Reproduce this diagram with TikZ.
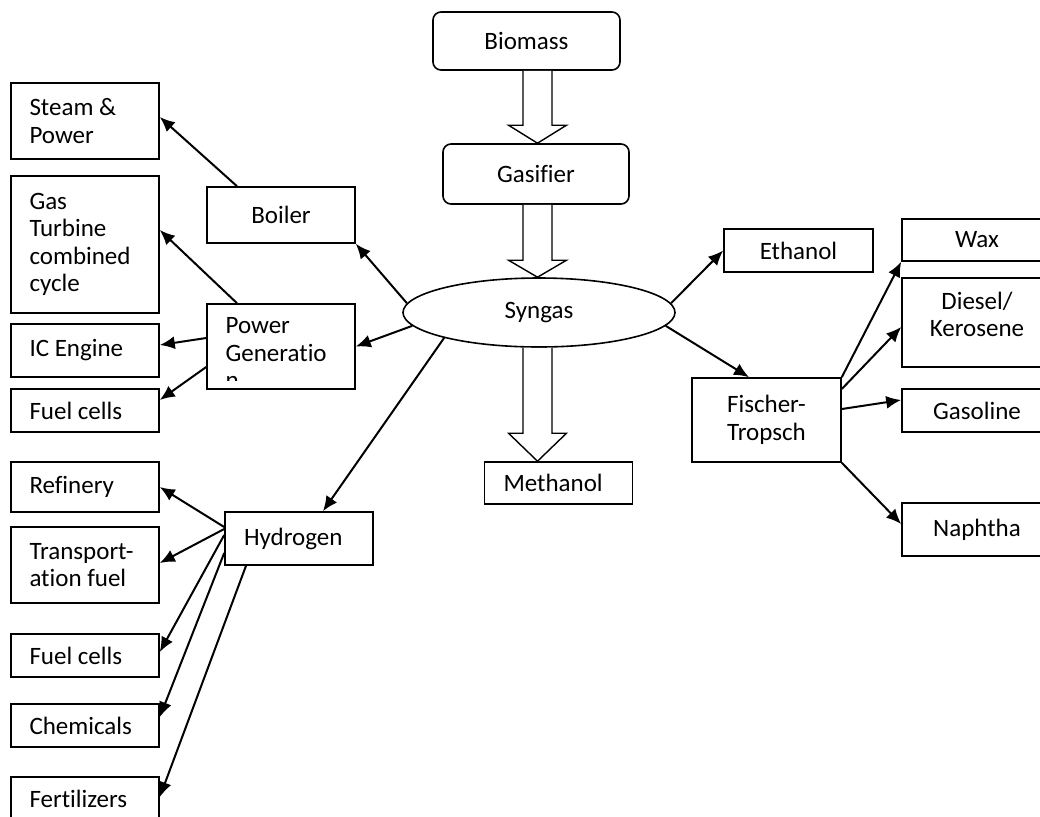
\documentclass[tikz,border=0pt]{standalone}
\usepackage{fontspec}
\setmainfont{Carlito}[Ligatures=NoCommon]
\usetikzlibrary{arrows.meta,shapes.geometric}

\tikzset{
  box/.style={draw, line width=0.8pt, inner sep=0pt, align=center, minimum width=74pt},
  lbox/.style={box, align=flush left, text width=55.5pt, inner xsep=9.25pt},
  rbox/.style={box, rounded corners=4pt},
  arr/.style={-{Latex[length=7.5pt,width=6.5pt]}, line width=1pt},
  fatarrow/.style={draw, fill=white, line width=0.7pt, line join=miter},
}

\begin{document}
\begin{tikzpicture}[x=0.5pt, y=-0.5pt, font=\fontsize{12.5}{13.75}\selectfont]
    \useasboundingbox (0,0) rectangle (1040,816);
    % main line
    \node[rbox, minimum width=93.5pt, minimum height=29pt] (biomass) at (526.5,41) {Biomass};
    \node[rbox, minimum width=93pt, minimum height=30pt] (gasifier) at (536,174) {Gasifier};
    \node[draw, ellipse, line width=0.8pt, inner sep=0pt, minimum width=136pt, minimum height=34.5pt] (syngas) at (539,312.5) {Syngas};
    \node[lbox, text width=55pt, inner xsep=9.5pt, minimum height=21pt] (methanol) at (558.5,483) {Methanol};
    \coordinate (axis) at (537.5,0);
    \draw[fatarrow] ([xshift=-7.25pt]axis |- biomass.south) -- ([xshift=-7.25pt,yshift=9pt]axis |- gasifier.north) -- ([xshift=-14.5pt,yshift=9pt]axis |- gasifier.north) -- (axis |- gasifier.north) -- ([xshift=14.5pt,yshift=9pt]axis |- gasifier.north) -- ([xshift=7.25pt,yshift=9pt]axis |- gasifier.north) -- ([xshift=7.25pt]axis |- biomass.south);
    \draw[fatarrow] ([xshift=-7.25pt]axis |- gasifier.south) -- ([xshift=-7.25pt,yshift=8.5pt]axis |- syngas.north) -- ([xshift=-14.5pt,yshift=8.5pt]axis |- syngas.north) -- (axis |- syngas.north) -- ([xshift=14.5pt,yshift=8.5pt]axis |- syngas.north) -- ([xshift=7.25pt,yshift=8.5pt]axis |- syngas.north) -- ([xshift=7.25pt]axis |- gasifier.south);
    \draw[fatarrow] ([xshift=-7.25pt]axis |- syngas.south) -- ([xshift=-7.25pt,yshift=14pt]axis |- methanol.north) -- ([xshift=-14.5pt,yshift=14pt]axis |- methanol.north) -- (axis |- methanol.north) -- ([xshift=14.5pt,yshift=14pt]axis |- methanol.north) -- ([xshift=7.25pt,yshift=14pt]axis |- methanol.north) -- ([xshift=7.25pt]axis |- syngas.south);
    %
    \node[lbox, minimum height=38pt] (steam) at (85,121) {Steam \&\\Power};
    \node[lbox, minimum height=68.5pt] (gasturb) at (85,244.5) {Gas\\Turbine\\combined\\cycle};
    \node[lbox, minimum height=26.5pt] (icengine) at (85,350.5) {IC Engine};
    \node[lbox, minimum height=21.5pt] (fuelcellsA) at (85,410.5) {Fuel cells};
    \node[box, minimum height=28pt] (boiler) at (281,215) {Boiler};
    \node[box, minimum height=42.5pt] (powergen) at (281,346.5) {};
    \begin{scope}
      \clip (powergen.north west) rectangle ([yshift=4.5pt]powergen.south east);
      \node[anchor=north west, align=flush left, inner sep=0pt] (powertext) at ([xshift=9.5pt,yshift=-7pt]powergen.north west) {Power\\Generatio\\n};
    \end{scope}
    %
    \node[lbox, minimum height=25pt] (refinery) at (85,487) {Refinery};
    \node[lbox, minimum height=38pt] (transport) at (85,565) {Transport-\\ation fuel};
    \node[lbox, minimum height=21.5pt] (fuelcellsB) at (85,655.5) {Fuel cells};
    \node[lbox, minimum height=21.5pt] (chemicals) at (85,725.5) {Chemicals};
    \node[lbox, minimum height=21.5pt] (fertilizers) at (85,798.5) {Fertilizers};
    \node[lbox, text width=55pt, inner xsep=9.5pt, minimum height=26.5pt] (hydrogen) at (299,538.5) {Hydrogen};
    %
    \node[box, minimum width=74.5pt, minimum height=21.5pt] (ethanol) at (798.5,250.5) {Ethanol};
    \node[box, minimum width=74.5pt, minimum height=42pt] (fischer) at (766.5,420) {Fischer-\\Tropsch};
    \node[box, minimum width=75pt, minimum height=21pt] (wax) at (977,240) {Wax};
    \node[box, minimum width=75pt, minimum height=44.5pt] (diesel) at (977,322.5) {Diesel/\\Kerosene\\[-5.75pt]\mbox{}};
    \node[box, minimum width=75pt, minimum height=21.5pt] (gasoline) at (977,410.5) {Gasoline};
    \node[box, minimum width=75pt, minimum height=26.5pt] (naphtha) at (977,529.5) {Naphtha};
    %
    \draw[arr] (syngas.176) -- (boiler.south east);
    \draw[arr] (syngas.186) -- (powergen.east);
    \draw[arr] (syngas.195) -- ([xshift=12pt]hydrogen.north);
    \draw[arr] (syngas.4) -- (ethanol.west);
    \draw[arr] (syngas.354) -- ([xshift=-8.75pt]fischer.north);
    \draw[arr] ([xshift=-22pt]boiler.north) -- ([yshift=2pt]steam.east);
    \draw[arr] ([xshift=-22pt]powergen.north) -- ([yshift=7.25pt]gasturb.east);
    \draw[arr] ([yshift=4.25pt]powergen.west) -- ([yshift=2.75pt]icengine.east);
    \draw[arr] ([yshift=-10.25pt]powergen.west) -- ([yshift=5.25pt]fuelcellsA.east);
    \draw[arr] ([yshift=5.75pt]hydrogen.west) -- (refinery.east);
    \draw[arr] ([yshift=4.75pt]hydrogen.west) -- ([yshift=1pt]transport.east);
    \draw[arr] ([yshift=1.75pt]hydrogen.west) -- ([yshift=1.75pt]fuelcellsB.east);
    \draw[arr] ([yshift=-7.25pt]hydrogen.west) -- ([yshift=4.25pt]chemicals.east);
    \draw[arr] ([xshift=-26.5pt]hydrogen.south) -- ([yshift=0.75pt]fertilizers.east);
    \draw[arr] (fischer.north east) -- (wax.south west);
    \draw[arr] ([yshift=15.5pt]fischer.east) -- ([yshift=-2.25pt]diesel.west);
    \draw[arr] ([yshift=5.5pt]fischer.east) -- ([yshift=5.25pt]gasoline.west);
    \draw[arr] (fischer.south east) -- ([yshift=2.75pt]naphtha.west);
\end{tikzpicture}
\end{document}
